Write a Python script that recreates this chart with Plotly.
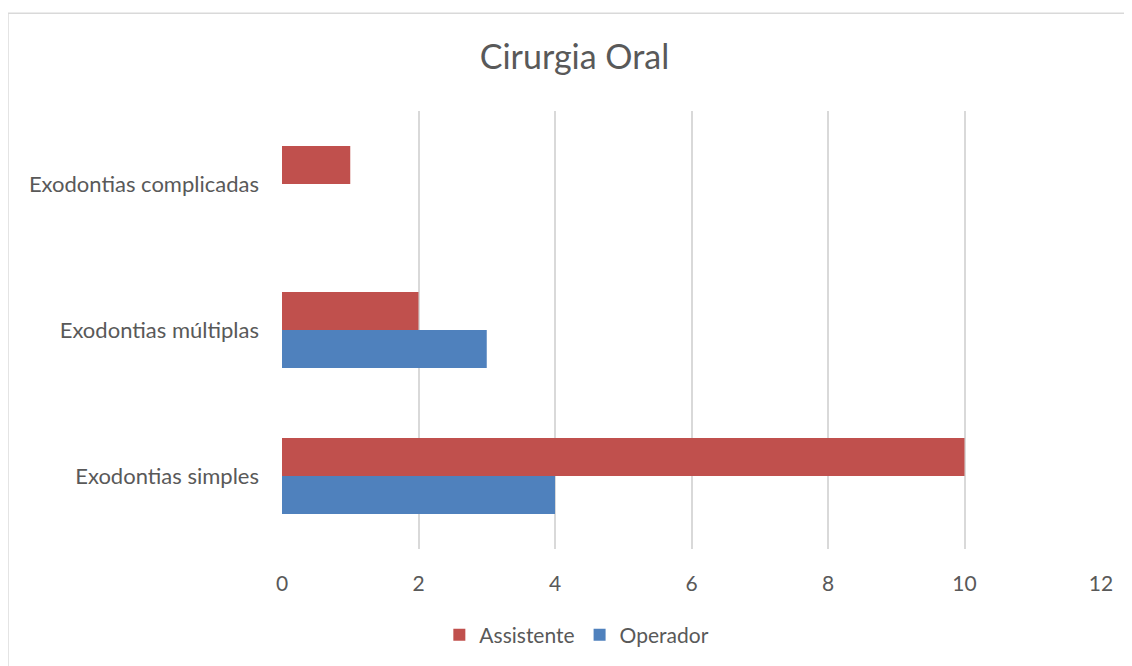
import plotly.graph_objects as go

categories = ["Exodontias simples", "Exodontias múltiplas", "Exodontias complicadas"]
assistente = [10, 2, 1]
operador = [4, 3, 0]
x_ticks = [0, 2, 4, 6, 8, 10, 12]

TXT = "#595959"
FONT = "Lato"

fig = go.Figure()
fig.add_trace(go.Bar(y=categories, x=operador, orientation="h", name="Operador",
                     marker=dict(color="#4F81BD", line=dict(width=0)), legendrank=2))
fig.add_trace(go.Bar(y=categories, x=assistente, orientation="h", name="Assistente",
                     marker=dict(color="#C0504D", line=dict(width=0)), legendrank=1))

fig.update_layout(
    width=1124, height=658,
    margin=dict(l=274, r=31, t=103, b=116),
    paper_bgcolor="white", plot_bgcolor="white",
    barmode="group", bargap=0.48, bargroupgap=0,
    font=dict(family=FONT, color=TXT, size=21),
    title=dict(text="Cirurgia Oral", x=0.504, xanchor="center", y=0.926, yanchor="middle",
               yref="container", font=dict(size=34, color=TXT, family=FONT)),
    xaxis=dict(range=[0, 12], tickvals=x_ticks, showgrid=True, gridcolor="#D9D9D9",
               gridwidth=1.5, zeroline=False, showline=False, ticklabelstandoff=20,
               tickfont=dict(size=21, color=TXT)),
    yaxis=dict(categoryorder="array", categoryarray=categories, showgrid=False,
               zeroline=False, showline=False, ticklabelstandoff=22,
               tickfont=dict(size=22, color=TXT)),
    legend=dict(orientation="h", x=0.36, xanchor="center", y=-0.194, yanchor="middle",
                font=dict(size=21, color=TXT), itemwidth=30),
    shapes=[dict(type="rect", xref="paper", yref="paper", x0=-0.3346, x1=1.06,
                 y0=-0.5, y1=1.2233, line=dict(color="#D9D9D9", width=1.5),
                 fillcolor="rgba(0,0,0,0)", layer="below")],
)

fig.write_html("out.html")
